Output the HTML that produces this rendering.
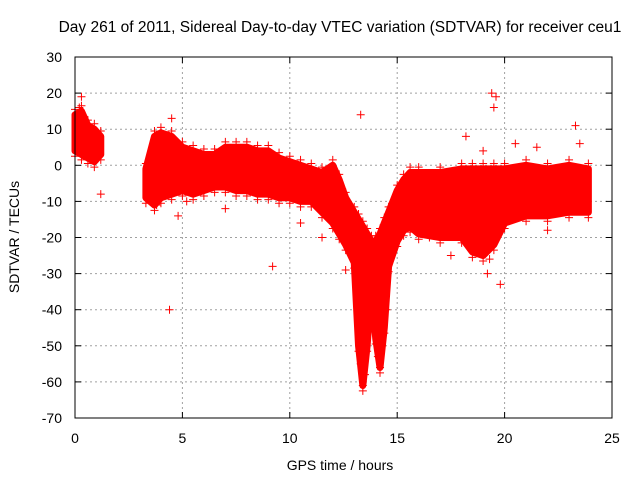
<!DOCTYPE html>
<html><head><meta charset="utf-8"><style>
body{margin:0;background:#fff;}
svg{display:block;font-family:"Liberation Sans",sans-serif;}
</style></head><body>
<svg id="chart" width="640" height="480">
<text x="340" y="32" font-size="15.5" text-anchor="middle">Day 261 of 2011, Sidereal Day-to-day VTEC variation (SDTVAR) for receiver ceu1</text>
<text x="340" y="470" font-size="14" text-anchor="middle">GPS time / hours</text>
<text x="19" y="237" font-size="14" text-anchor="middle" transform="rotate(-90 19 237)">SDTVAR / TECUs</text>
<g id="grid"></g><g id="ticks"></g><g id="marks"></g>
<rect x="75" y="57" width="537" height="361" fill="none" stroke="#000" stroke-width="1"/>
</svg>
<script>
const xTicks=[0,5,10,15,20,25];
const yTicks=[30,20,10,0,-10,-20,-30,-40,-50,-60,-70];
const bandHours=[0,0.3,0.6,0.9,1.2];
const bandUpper=[14,15,11,10,8];
const bandLower=[4,3,2,1,3];
const band2Hours=[3.3,3.7,4.0,4.5,5,5.5,6,6.5,7,7.5,8,8.5,9,9.5,10,10.5,11,11.5,12,12.3,12.6,13,13.2,13.4,13.6,13.8,14,14.2,14.4,14.6,15,15.3,15.6,16,17,18,18.5,19,19.5,20,21,22,23,23.9];
const band2Upper=[-1,8,9,8,5,4,3,3,5,5,5,4,4,2,1,0,-1,-2,0,-4,-9,-13,-15,-17,-19,-21,-21,-19,-16,-13,-7,-4,-2,-2,-2,-1,-1,-1,-1,-1,0,-1,0,-1];
const band2Lower=[-9,-11,-9,-8,-7,-8,-7,-6,-6,-7,-7,-8,-8,-9,-9,-10,-10,-13,-16,-19,-22,-27,-50,-61,-50,-34,-48,-56,-45,-28,-21,-18,-17,-19,-20,-20,-24,-25,-22,-16,-14,-14,-13,-13];
const outHours=[0.3,0.2,1.2,4.4,9.2,13.3,13.4,13.5,13.3,14.2,14.1,14.3,13.8,14.5,19.4,19.6,19.5,18.2,19.0,19.8,19.2,18.8,17.5,23.3,20.5,21.5,12.6,3.8,4.8,7,10.5,11.5,22,16.5,4.5,5.2,19.3,18.5,23.5,12.5];
const outValues=[19,16,-8,-40,-28,14,-61,-58,-55,-56,-53,-50,-40,-40,20,19,16,8,4,-33,-30,-24,-25,11,6,5,-29,-11,-14,-12,-16,-20,-18,-20,13,-10,-26,-22,6,-14];
const X0=75,X1=612,Y0=418,Y1=57;
const sx=h=>X0+(h-0)/(25-0)*(X1-X0);
const sy=v=>Y0-(v+70)/(100)*(Y0-Y1);
const NS="http://www.w3.org/2000/svg";
function mk(t,a,p){const e=document.createElementNS(NS,t);for(const k in a)e.setAttribute(k,a[k]);p.appendChild(e);return e;}
const grid=document.getElementById('grid'),ticks=document.getElementById('ticks'),marks=document.getElementById('marks');
xTicks.forEach(t=>{const x=sx(t);
 if(t>0&&t<25){const g=mk('line',{x1:x,x2:x,y1:Y1,y2:Y0,stroke:'#a0a0a0','stroke-dasharray':'2,3'},grid);}
 mk('line',{x1:x,x2:x,y1:Y0,y2:Y0-6,stroke:'#000'},ticks);mk('line',{x1:x,x2:x,y1:Y1,y2:Y1+6,stroke:'#000'},ticks);
 const l=mk('text',{x:x,y:443,'font-size':14,'text-anchor':'middle'},ticks);l.textContent=t;
 });
yTicks.forEach(t=>{const y=sy(t);
 if(t<30&&t>-70){const g=mk('line',{x1:X0,x2:X1,y1:y,y2:y,stroke:'#a0a0a0','stroke-dasharray':'2,3'},grid);}
 mk('line',{x1:X0,x2:X0+6,y1:y,y2:y,stroke:'#000'},ticks);mk('line',{x1:X1,x2:X1-6,y1:y,y2:y,stroke:'#000'},ticks);
 const l=mk('text',{x:62,y:y+5,'font-size':14,'text-anchor':'end'},ticks);l.textContent=t;
 });
function cross(h,v){const x=sx(h),y=sy(v);
 const p=mk('path',{d:`M${x-4} ${y}H${x+4}M${x} ${y-4}V${y+4}`,stroke:'#f00','stroke-width':1},marks);
 }
function band(hs,up,lo,name){
 let d='M'+hs.map((h,i)=>sx(h)+' '+sy(up[i])).join('L')+'L'+hs.map((h,i)=>sx(h)+' '+sy(lo[i])).reverse().join('L')+'Z';
 const p=mk('path',{d:d,fill:'#f00',stroke:'#f00','stroke-width':7,'stroke-linejoin':'round'},marks);
 
 hs.forEach((h,i)=>{cross(h,up[i]+1.5);cross(h,lo[i]-1.5);});}
band(bandHours,bandUpper,bandLower,'early-data-band');
band(band2Hours,band2Upper,band2Lower,'main-data-band');
outHours.forEach((h,i)=>cross(h,outValues[i]));
</script>
</body></html>
